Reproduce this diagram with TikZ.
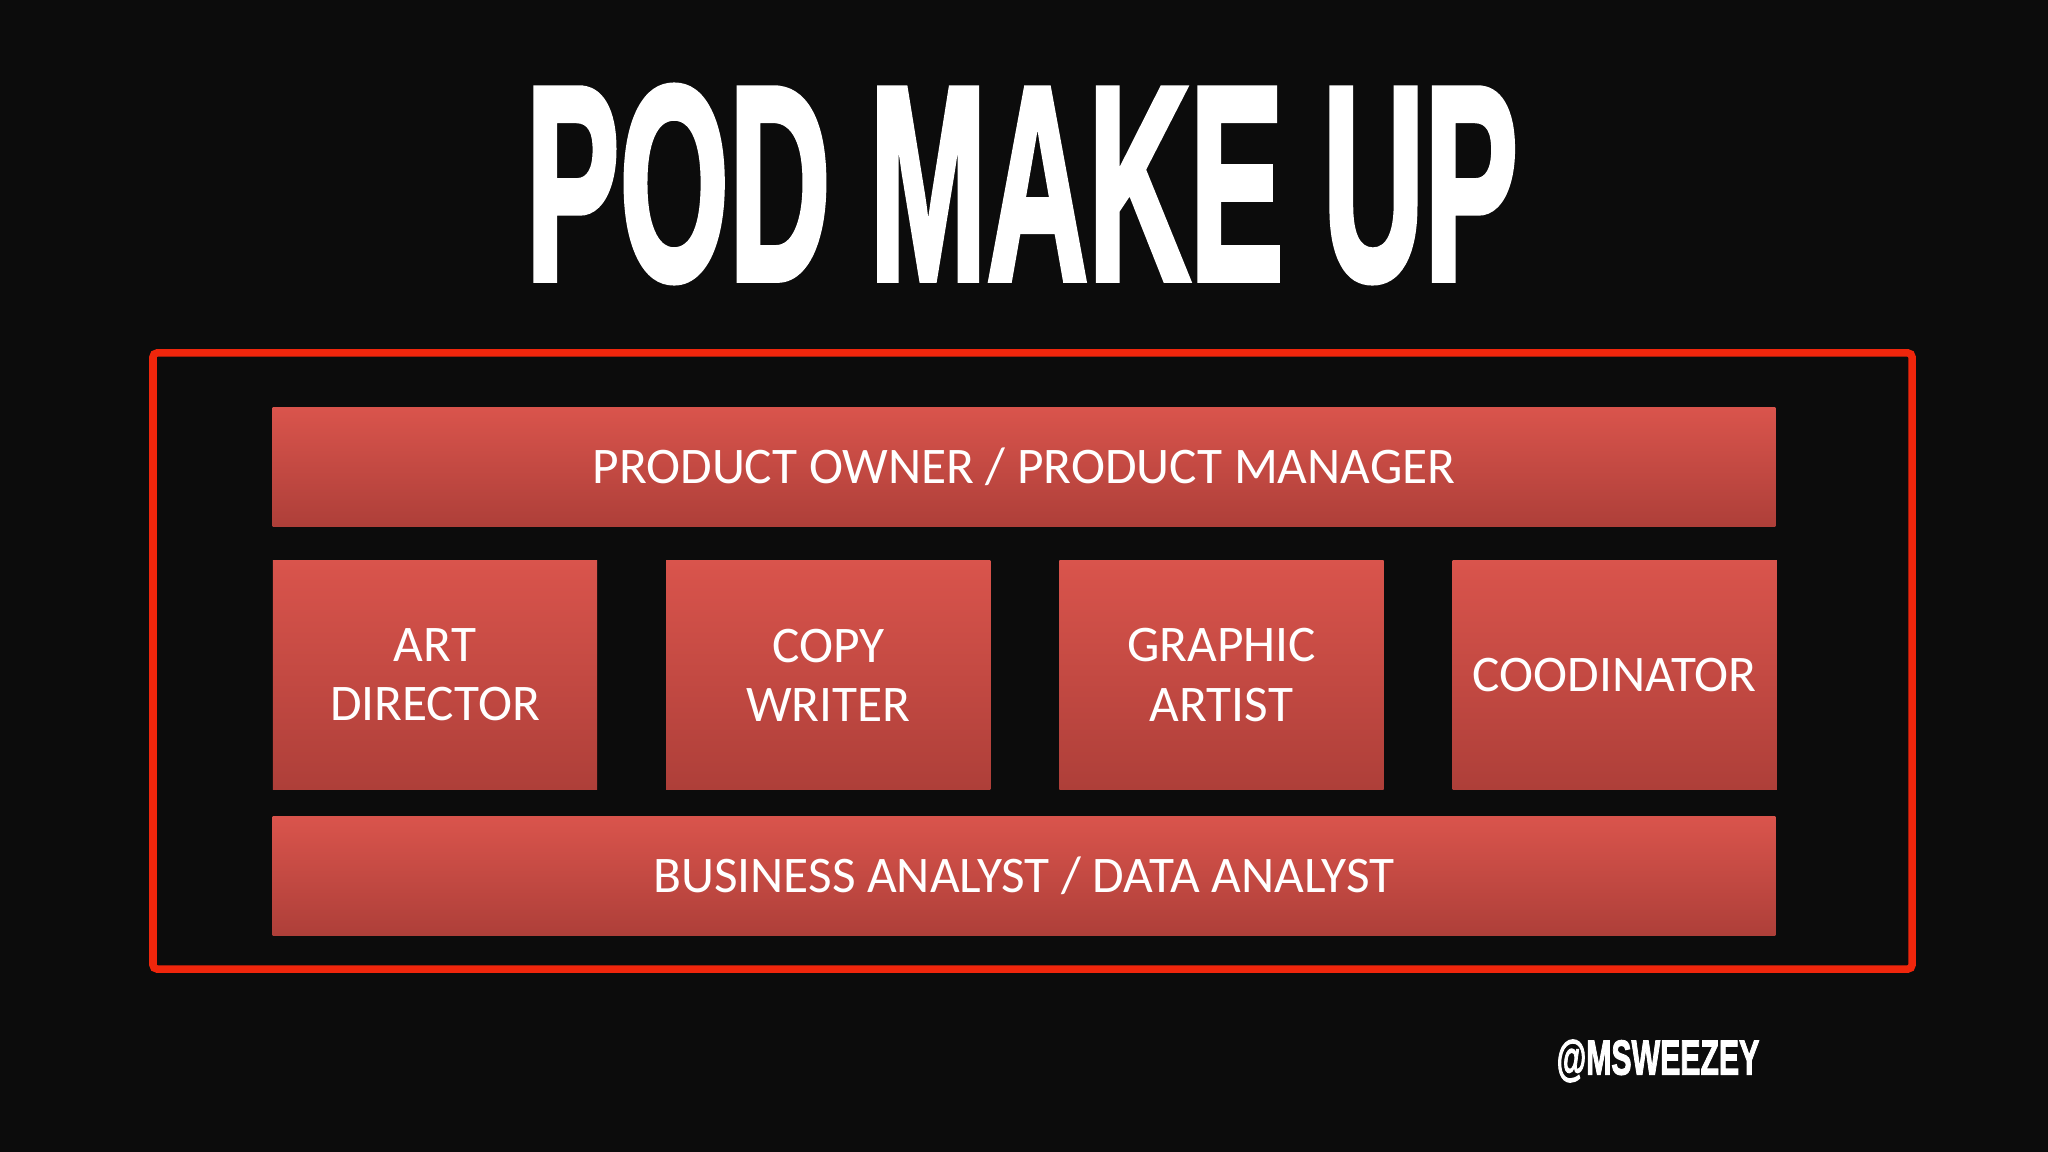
\documentclass[tikz,border=0pt]{standalone}
\usepackage{fontspec}
\setmainfont{Carlito}
\newfontfamily\headfont{Liberation Sans}[BoldFeatures={FakeBold=2.5}]
\usetikzlibrary{positioning}
\definecolor{bgdark}{RGB}{12,12,12}
\definecolor{framered}{RGB}{240,38,12}
\definecolor{boxtop}{RGB}{217,84,76}
\definecolor{boxbot}{RGB}{174,63,57}
\tikzset{
  rolebox/.style={top color=boxtop, bottom color=boxbot, text=white, inner sep=0pt, outer sep=0pt, align=center, font=\fontsize{14.6}{16.8}\selectfont},
  widebox/.style={rolebox, minimum width=15.02cm, minimum height=1.18cm},
  smallbox/.style={rolebox, minimum width=3.24cm, minimum height=2.29cm},
}
\begin{document}
\begin{tikzpicture}[x=0.01cm, y=-0.01cm]
\fill[bgdark] (0,0) rectangle (2048,1152);
\useasboundingbox (0,0) rectangle (2048,1152);
% heading
\node[text=white] (title) at (1022,184) {\scalebox{1}[1.97]{\headfont\bfseries\fontsize{40}{40}\selectfont POD MAKE UP}};
% outer frame
\draw[framered, line width=0.075cm, rounded corners=0.04cm] (153,353) rectangle (1912,969);
% roles
\node[widebox] (owner) at (1024,467) {PRODUCT OWNER / PRODUCT MANAGER};
\node[smallbox] (art) at (435,675) {ART\\DIRECTOR};
\node[smallbox, right=0.69cm of art] (copy) {COPY\\WRITER};
\node[smallbox, right=0.69cm of copy] (graphic) {GRAPHIC\\ARTIST};
\node[smallbox, right=0.69cm of graphic] (coord) {COODINATOR};
\node[widebox] (analyst) at (1024,876) {BUSINESS ANALYST / DATA ANALYST};
% handle
\node[text=white] (handle) at (1658,1061) {\scalebox{1}[1.62]{\headfont\bfseries\fontsize{8.6}{8.6}\selectfont @MSWEEZEY}};
\end{tikzpicture}
\end{document}
